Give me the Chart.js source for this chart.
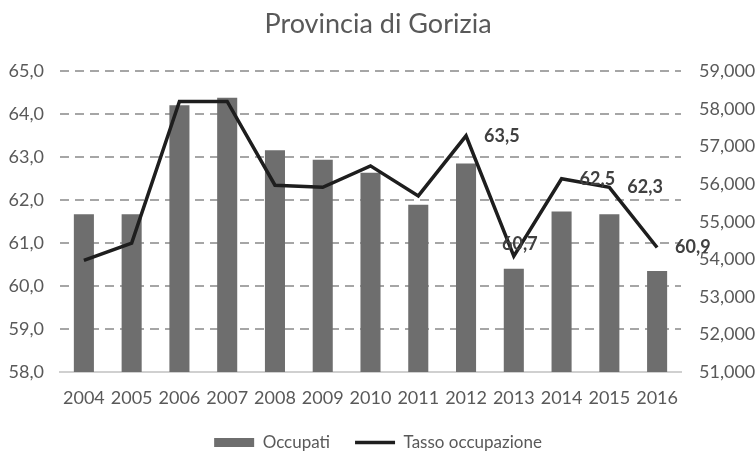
<!DOCTYPE html>
<html lang="it">
<head>
<meta charset="utf-8">
<title>Provincia di Gorizia</title>
<script src="https://cdn.jsdelivr.net/npm/chart.js@4.4.1/dist/chart.umd.min.js"></script>
<style>
    html, body { margin: 0; padding: 0; background: #fff; }
    #wrap { width: 756px; height: 453px; }
</style>
</head>
<body>
<div id="wrap"><canvas id="grafico"></canvas></div>
<script>
const anni = ['2004', '2005', '2006', '2007', '2008', '2009', '2010', '2011', '2012', '2013', '2014', '2015', '2016'];
const occupati = [55200, 55200, 58100, 58300, 56900, 56650, 56300, 55450, 56550, 53750, 55270, 55200, 53690];
const tassoOccupazione = [60.6, 61.0, 64.3, 64.3, 62.35, 62.3, 62.8, 62.1, 63.5, 60.7, 62.5, 62.3, 60.9];
const puntiEtichettati = [8, 9, 10, 11, 12];

const FONT = 'Lato, "Liberation Sans", sans-serif';
const GRIGIO_TESTO = '#595959';

const formatoTasso = (v) => Number(v).toFixed(1).replace('.', ',');

// etichette sui punti della linea
const etichettePlugin = {
    id: 'etichette',
    afterDatasetsDraw(chart) {
        const meta = chart.getDatasetMeta(1);
        const ctx = chart.ctx;
        ctx.save();
        ctx.font = 'bold 18px ' + FONT;
        ctx.fillStyle = '#404040';
        ctx.textBaseline = 'middle';
        puntiEtichettati.forEach((i) => {
            const p = meta.data[i];
            const testo = formatoTasso(tassoOccupazione[i]);
            if (i === 9) {
                ctx.textAlign = 'center';
                ctx.fillText(testo, p.x + 6, p.y - 12);
            } else {
                ctx.textAlign = 'left';
                ctx.fillText(testo, p.x + 18, p.y);
            }
        });
        ctx.restore();
    }
};

new Chart(document.getElementById('grafico'), {
    type: 'bar',
    data: {
        labels: anni,
        datasets: [{
            label: 'Occupati',
            data: occupati,
            backgroundColor: '#6e6e6e',
            borderWidth: 0,
            yAxisID: 'yDestra',
            barPercentage: 0.42,
            categoryPercentage: 1,
            order: 2
        }, {
            type: 'line',
            label: 'Tasso occupazione',
            data: tassoOccupazione,
            borderColor: '#1e1e1e',
            backgroundColor: '#1e1e1e',
            borderWidth: 3.5,
            pointRadius: 0,
            tension: 0,
            yAxisID: 'ySinistra',
            order: 1
        }]
    },
    options: {
        responsive: true,
        maintainAspectRatio: false,
        animation: false,
        layout: { padding: { left: 0, right: 0, top: 4, bottom: -8 } },
        plugins: {
            title: {
                display: true,
                text: 'Provincia di Gorizia',
                color: GRIGIO_TESTO,
                font: { family: FONT, size: 27, weight: 'normal' },
                padding: { top: 4, bottom: 31 }
            },
            legend: {
                position: 'bottom',
                reverse: true,
                labels: {
                    usePointStyle: true,
                    pointStyleWidth: 40,
                    boxHeight: 9,
                    padding: 25,
                    color: GRIGIO_TESTO,
                    font: { family: FONT, size: 17 },
                    generateLabels(chart) {
                        const items = Chart.defaults.plugins.legend.labels.generateLabels(chart);
                        items.forEach((it) => {
                            it.pointStyle = it.datasetIndex === 0 ? 'rect' : 'line';
                            if (it.datasetIndex === 0) it.lineWidth = 0;
                        });
                        return items;
                    }
                }
            },
            tooltip: { enabled: false }
        },
        scales: {
            x: {
                afterFit: (s) => { s.height = 37; },
                grid: { display: false, drawTicks: false },
                border: { display: true, color: '#d0d0d0', width: 2 },
                ticks: { color: GRIGIO_TESTO, font: { family: FONT, size: 18 }, padding: 15 }
            },
            ySinistra: {
                position: 'left',
                min: 58,
                max: 65,
                afterFit: (s) => { s.width = 60; },
                ticks: {
                    stepSize: 1,
                    color: GRIGIO_TESTO,
                    font: { family: FONT, size: 18 },
                    padding: 16,
                    callback: (v) => formatoTasso(v)
                },
                grid: {
                    drawTicks: false,
                    lineWidth: 2,
                    color: (c) => (c.tick && c.tick.value === 58 ? 'rgba(0,0,0,0)' : '#a6a6a6')
                },
                border: { display: false, dash: [9, 6] }
            },
            yDestra: {
                position: 'right',
                min: 51000,
                max: 59000,
                afterFit: (s) => { s.width = 75; },
                ticks: {
                    stepSize: 1000,
                    color: GRIGIO_TESTO,
                    font: { family: FONT, size: 18 },
                    padding: 18,
                    callback: (v) => Number(v).toLocaleString('en-US')
                },
                grid: { drawOnChartArea: false, drawTicks: false },
                border: { display: false }
            }
        }
    },
    plugins: [etichettePlugin]
});
</script>
</body>
</html>
